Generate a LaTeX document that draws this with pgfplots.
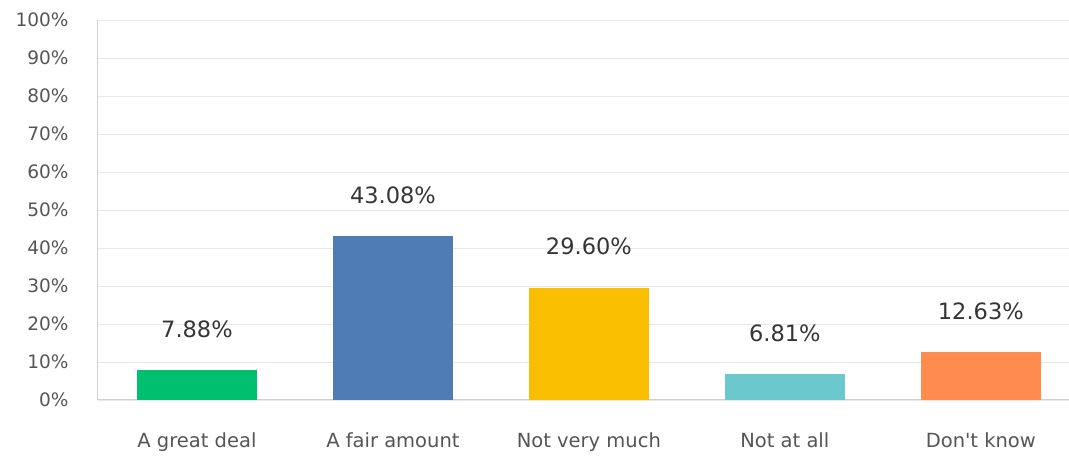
\documentclass[border=0pt]{standalone}
\usepackage{pgfplots}
\pgfplotsset{compat=1.18}
\usepackage{fontspec}
\setmainfont{DejaVu Sans}
\newfontfamily\plainfont{DejaVu Sans}[Ligatures=ResetAll]
\definecolor{cgreen}{HTML}{00BF6F}
\definecolor{cblue}{HTML}{507CB6}
\definecolor{cyellow}{HTML}{F9BE00}
\definecolor{cteal}{HTML}{6BC8CD}
\definecolor{corange}{HTML}{FF8B4F}
\definecolor{gridc}{HTML}{E8E8E8}
\definecolor{axisc}{HTML}{CFCFCF}
\definecolor{tickc}{HTML}{555555}
\definecolor{valc}{HTML}{353535}
\begin{document}
\begin{tikzpicture}[x=1pt,y=1pt]
\path[use as bounding box] (0,0) rectangle (1069,457);
\begin{axis}[
  at={(98pt,57pt)}, anchor=south west,
  scale only axis, width=971pt, height=380pt,
  ybar, bar width=120pt, bar shift=0pt,
  xmin=-0.505, xmax=4.45, ymin=0, ymax=100,
  ytick={0,10,...,100},
  xtick={0,1,2,3,4},
  xticklabels={A great deal, A fair amount, Not very much, Not at all, {\plainfont Don't know}},
  yticklabel={\pgfmathprintnumber{\tick}\%},
  /pgf/number format/assume math mode=true,
  ymajorgrids, grid style={gridc, line width=0.8pt},
  axis x line*=bottom, axis y line*=left,
  x axis line style={axisc, line width=1pt, -},
  y axis line style={axisc, line width=1pt, -},
  major tick length=0pt,
  yticklabel style={font=\fontsize{18.5}{20}\selectfont, text=tickc, xshift=-26pt, anchor=east},
  xticklabel style={font=\fontsize{19.5}{22}\selectfont, text=tickc, yshift=-29pt},
  nodes near coords,
  point meta=explicit symbolic,
  every node near coord/.append style={font=\fontsize{22.5}{25}\selectfont, text=valc, anchor=center, yshift=41pt},
  clip=false,
]
\addplot[fill=cgreen, draw=none] coordinates {(0,7.88) [7.88\%]};
\addplot[fill=cblue, draw=none] coordinates {(1,43.08) [43.08\%]};
\addplot[fill=cyellow, draw=none] coordinates {(2,29.60) [29.60\%]};
\addplot[fill=cteal, draw=none] coordinates {(3,6.81) [6.81\%]};
\addplot[fill=corange, draw=none] coordinates {(4,12.63) [12.63\%]};
\end{axis}
\end{tikzpicture}
\end{document}
